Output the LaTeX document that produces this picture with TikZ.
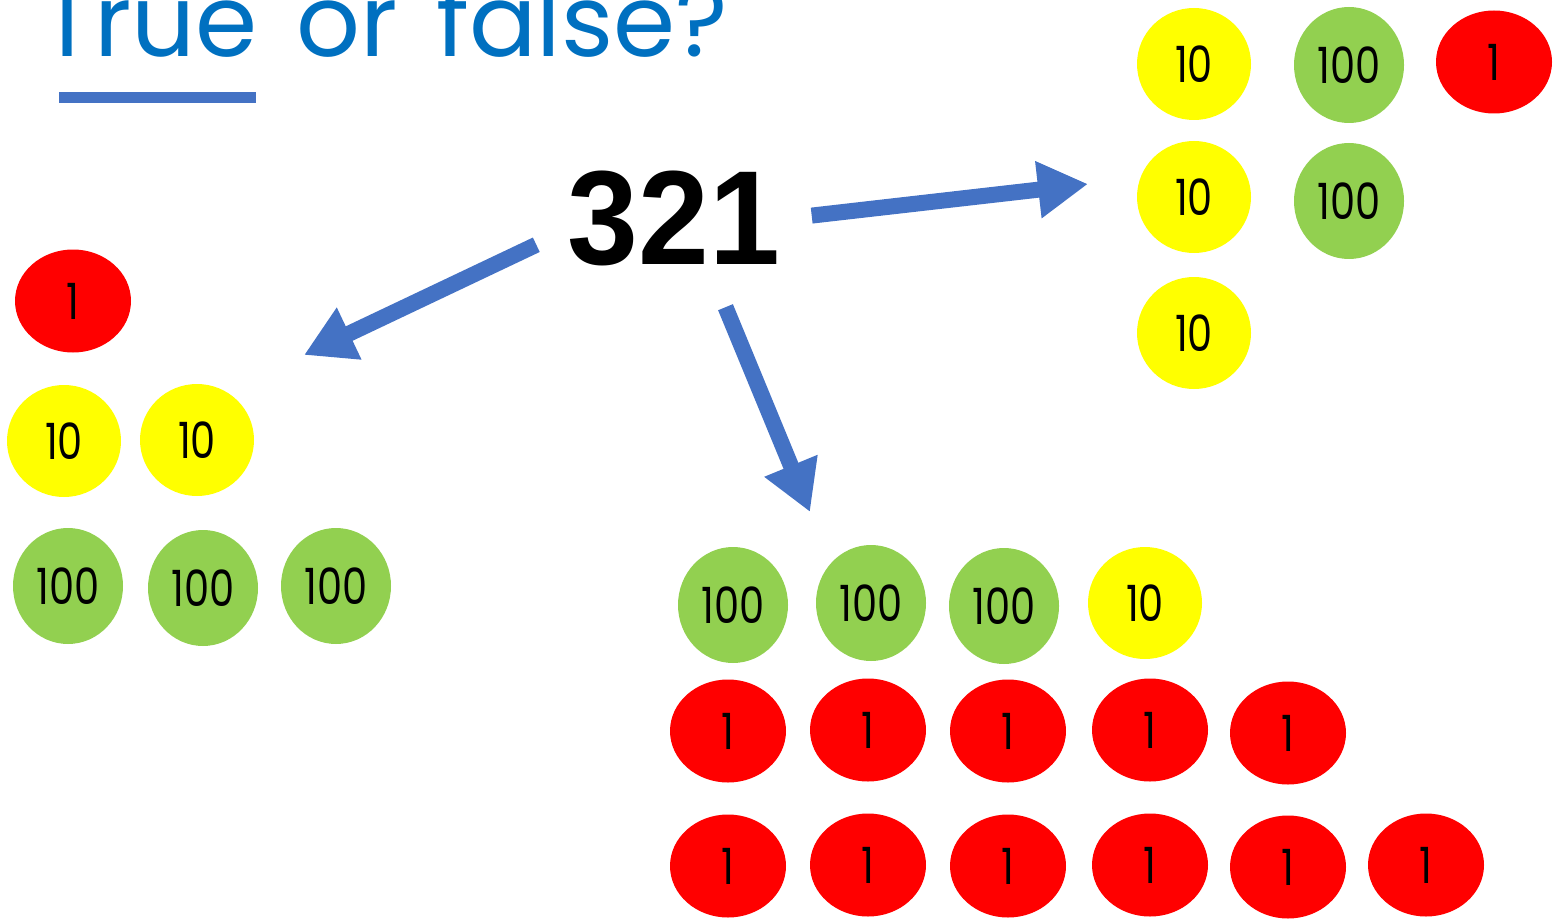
\documentclass[tikz,border=0pt]{standalone}
\usepackage{fontspec}
\setmainfont{Poppins}
\newfontfamily\titlefont[WordSpace=1.45]{Poppins}
\newfontfamily\numfont[FakeStretch=0.95]{Liberation Sans}
\newfontfamily\chipfont[FakeStretch=0.8]{Poppins}
\usepackage{tikz}
\usetikzlibrary{arrows.meta}
\usetikzlibrary{positioning,shapes.geometric}
\definecolor{titleblue}{HTML}{0070C0}
\definecolor{arrowblue}{HTML}{4472C4}
\definecolor{onered}{HTML}{FF0000}
\definecolor{tenyellow}{HTML}{FFFF00}
\definecolor{hundgreen}{HTML}{92D050}
\tikzset{
    counter/.style={
        ellipse,
        inner sep=0pt,
        font=\chipfont\fontsize{50}{50}\selectfont
    },
    one/.style={
        counter,
        fill=onered,
        minimum width=116pt,
        minimum height=103pt
    },
    ten/.style={
        counter,
        fill=tenyellow,
        minimum width=114pt,
        minimum height=112pt
    },
    hund/.style={
        counter,
        fill=hundgreen,
        minimum width=110pt,
        minimum height=116pt
    },
    bigarrow/.style={
        draw=arrowblue,
        line width=16pt,
        -{Triangle[length=50pt, width=54pt]}
    }
}

\begin{document}
\begin{tikzpicture}[x=1pt,y=-1pt]
  \useasboundingbox (0,0) rectangle (1558,920);

  % title and underline
  \node[anchor=base west, inner sep=0pt, text=titleblue,
        font=\titlefont\fontsize{100}{100}\selectfont] (title) at (40,57) {True or false?};
  \node[fill=arrowblue, anchor=north west, inner sep=0pt,
        minimum width=197pt, minimum height=11pt] (uline) at (59,92) {};

  % the number
  \node[inner sep=0pt, minimum width=275pt, minimum height=178pt,
        font=\numfont\bfseries\fontsize{134}{134}\selectfont] (num) at (674,218) {321};

  % left group
  \node[one] (l1) at (73,301) {1};
  \node[ten] (l2) at (64,441) {10};
  \node[ten] (l3) at (197,440) {10};
  \node[hund] (l4) at (68,586) {100};
  \node[hund] (l5) at (203,588) {100};
  \node[hund] (l6) at (336,586) {100};

  % right group
  \node[ten] (r1) at (1194,64) {10};
  \node[hund] (r2) at (1349,65) {100};
  \node[one] (r3) at (1494,62) {1};
  \node[ten] (r4) at (1194,197) {10};
  \node[hund] (r5) at (1349,201) {100};
  \node[ten] (r6) at (1194,333) {10};

  % bottom group
  \node[hund] (b1) at (733,605) {100};
  \node[hund] (b2) at (871,603) {100};
  \node[hund] (b3) at (1004,606) {100};
  \node[ten] (b4) at (1145,603) {10};
  \node[one] (b5) at (728,731) {1};
  \node[one] (b6) at (868,730) {1};
  \node[one] (b7) at (1008,731) {1};
  \node[one] (b8) at (1150,730) {1};
  \node[one] (b9) at (1288,733) {1};
  \node[one] (b10) at (728,866) {1};
  \node[one] (b11) at (868,865) {1};
  \node[one] (b12) at (1008,866) {1};
  \node[one] (b13) at (1150,865) {1};
  \node[one] (b14) at (1288,867) {1};
  \node[one] (b15) at (1426,865) {1};

  % arrows
  \coordinate (ltip) at (304,355);
  \coordinate (rtip) at (1088,184);
  \coordinate (dtip) at (810,512);
  \draw[bigarrow] (num.191) -- (ltip);
  \draw[bigarrow] (num.1) -- (rtip);
  \draw[bigarrow] (num.300) -- (dtip);
\end{tikzpicture}
\end{document}
